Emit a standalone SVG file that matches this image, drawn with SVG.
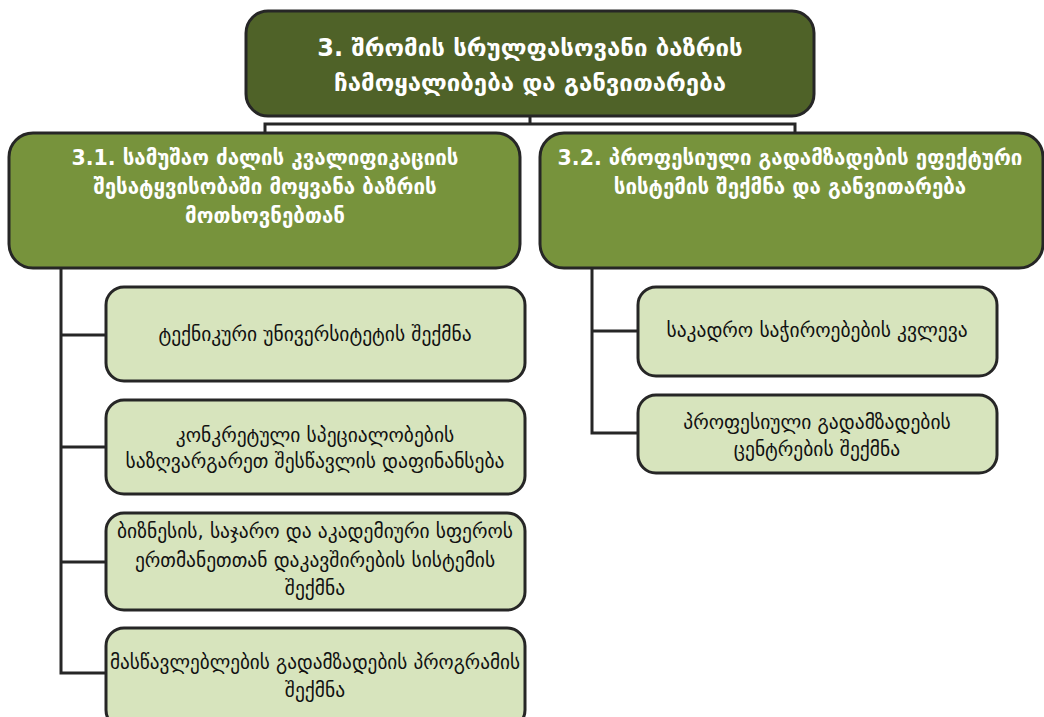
<svg xmlns="http://www.w3.org/2000/svg" width="1044" height="717" viewBox="0 0 1044 717">
<style>
.box{stroke:#262626;stroke-width:3}
.top{fill:#4f6228}
.mid{fill:#77933c}
.leaf{fill:#d7e4bd}
.conn{stroke:#262626;stroke-width:3;fill:none}
.tw{font-family:"DejaVu Sans","Noto Sans",sans-serif;fill:#ffffff;font-weight:bold;text-anchor:middle}
.tb{font-family:"DejaVu Sans","Noto Sans",sans-serif;fill:#111111;text-anchor:middle;font-size:19.5px}
</style>
<rect width="1044" height="717" fill="#ffffff"/>
<g id="connectors">
<path class="conn" d="M530 116 V124 M265 133 V124 H795 V133"/>
<path class="conn" d="M61 268 V673 H106 M61 335 H106 M61 447 H106 M61 562 H106"/>
<path class="conn" d="M592 268 V433 H638 M592 331 H638"/>
</g>
<g id="n3">
<rect class="box top" x="246" y="11" width="568" height="105" rx="22"/>
<text class="tw" font-size="24" x="530" y="56">3. შრომის სრულფასოვანი ბაზრის</text>
<text class="tw" font-size="24" x="530" y="91">ჩამოყალიბება და განვითარება</text>
</g>
<g id="n31">
<rect class="box mid" x="9" y="133" width="511" height="135" rx="24"/>
<text class="tw" font-size="20.5" x="265" y="165">3.1. სამუშაო ძალის კვალიფიკაციის</text>
<text class="tw" font-size="20.5" x="265" y="194">შესატყვისობაში მოყვანა  ბაზრის</text>
<text class="tw" font-size="20.5" x="265" y="223">მოთხოვნებთან</text>
</g>
<g id="n32">
<rect class="box mid" x="540" y="133" width="503" height="135" rx="24"/>
<text class="tw" font-size="20.5" x="790" y="165">3.2. პროფესიული გადამზადების ეფექტური</text>
<text class="tw" font-size="20.5" x="790" y="194">სისტემის შექმნა და განვითარება</text>
</g>
<g id="n311">
<rect class="box leaf" x="106" y="287" width="419" height="94" rx="18"/>
<text class="tb" x="315" y="341">ტექნიკური უნივერსიტეტის შექმნა</text>
</g>
<g id="n312">
<rect class="box leaf" x="106" y="400" width="419" height="94" rx="18"/>
<text class="tb" x="315" y="442">კონკრეტული სპეციალობების</text>
<text class="tb" x="315" y="468">საზღვარგარეთ შესწავლის დაფინანსება</text>
</g>
<g id="n313">
<rect class="box leaf" x="106" y="513" width="419" height="97" rx="18"/>
<text class="tb" x="315" y="538">ბიზნესის, საჯარო და აკადემიური სფეროს</text>
<text class="tb" x="315" y="567">ერთმანეთთან დაკავშირების სისტემის</text>
<text class="tb" x="315" y="595">შექმნა</text>
</g>
<g id="n314">
<rect class="box leaf" x="106" y="628" width="419" height="100" rx="18"/>
<text class="tb" x="315" y="669" textLength="410" lengthAdjust="spacingAndGlyphs">მასწავლებლების გადამზადების პროგრამის</text>
<text class="tb" x="315" y="697">შექმნა</text>
</g>
<g id="n321">
<rect class="box leaf" x="638" y="287" width="359" height="89" rx="18"/>
<text class="tb" x="817" y="337">საკადრო საჭიროებების კვლევა</text>
</g>
<g id="n322">
<rect class="box leaf" x="638" y="395" width="359" height="78" rx="18"/>
<text class="tb" x="817" y="429">პროფესიული გადამზადების</text>
<text class="tb" x="817" y="456">ცენტრების შექმნა</text>
</g>
</svg>
